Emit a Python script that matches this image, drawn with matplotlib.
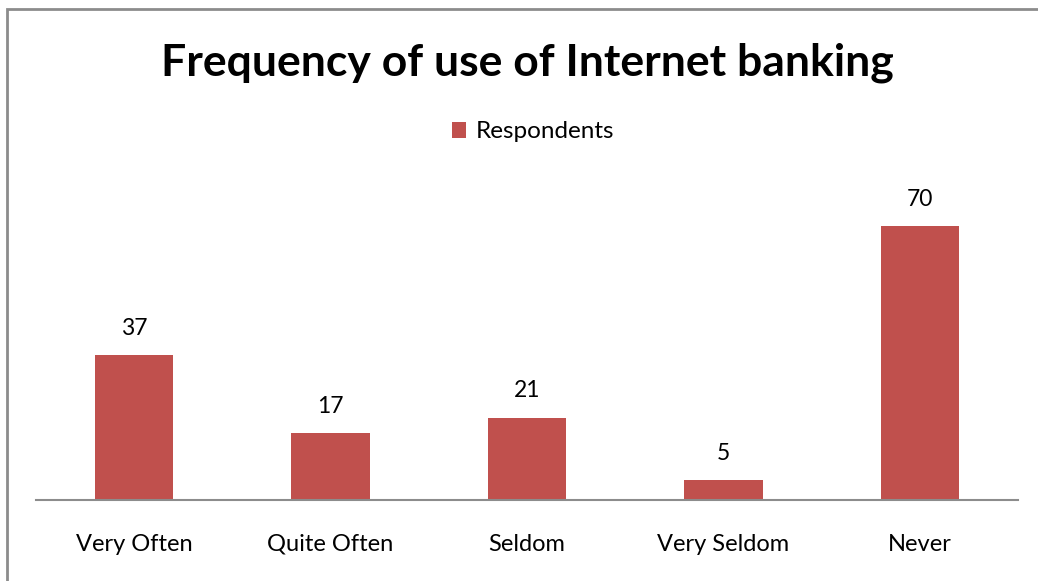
import matplotlib.pyplot as plt
from matplotlib.patches import Rectangle

categories = ["Very Often", "Quite Often", "Seldom", "Very Seldom", "Never"]
respondents = [37, 17, 21, 5, 70]

bar_color = "#C0504D"

fig = plt.figure(figsize=(10.38, 5.81), dpi=100)
plt.rcParams['font.family'] = ['Lato', 'DejaVu Sans']

# chart frame (left and top edges fall inside the canvas)
fig.patches.append(Rectangle((7 / 1038, -0.1), 1.2, 1 - 9 / 581 + 0.1,
                             transform=fig.transFigure, fill=False,
                             edgecolor="#8c8c8c", linewidth=2))

ax = fig.add_axes([36 / 1038, 1 - 500 / 581, 982 / 1038, 313 / 581])
x = range(len(categories))
bars = ax.bar(x, respondents, width=0.4, color=bar_color, label="Respondents")
ax.set_xlim(-0.5, len(categories) - 0.5)
ax.set_ylim(0, 80)

for rect, v in zip(bars, respondents):
    ax.annotate(str(v), (rect.get_x() + rect.get_width() / 2, v),
                xytext=(0, 27), textcoords="offset pixels",
                ha="center", va="center", fontsize=16.5)

ax.set_xticks(list(x))
ax.set_xticklabels(categories, fontsize=17)
# keep all category names on one baseline
for lbl in ax.get_xticklabels():
    lbl.set_va("baseline")
ax.tick_params(axis="x", length=0, pad=36.5)
ax.set_yticks([])
for side in ["left", "right", "top"]:
    ax.spines[side].set_visible(False)
ax.spines["bottom"].set_color("#8c8c8c")
ax.spines["bottom"].set_linewidth(1.5)

fig.text(527 / 1038, 1 - 63 / 581, "Frequency of use of Internet banking",
         ha="center", va="center", fontsize=32, fontweight="bold")

fig.legend(loc="center", bbox_to_anchor=(533 / 1038, 1 - 132 / 581),
           frameon=False, fontsize=17.5, handlelength=0.6, handleheight=0.6,
           handletextpad=0.4)

fig.savefig("out.png", dpi=100)
